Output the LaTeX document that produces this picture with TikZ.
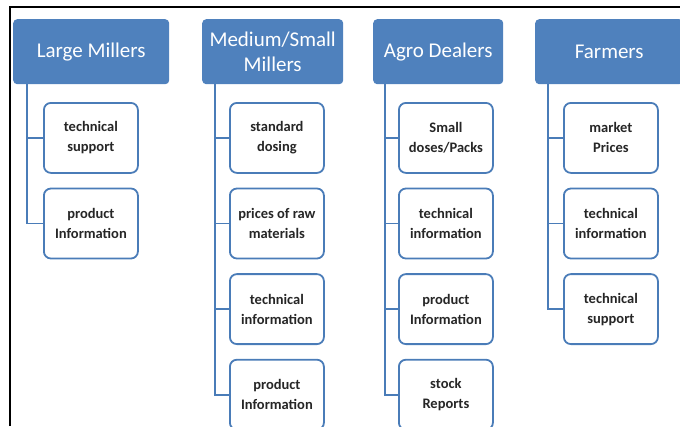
\documentclass[tikz,border=0pt]{standalone}
\usepackage{fontspec}
\setmainfont{Carlito}
\definecolor{hdrblue}{HTML}{4F81BD}
\definecolor{linkblue}{HTML}{4A7CB8}
\definecolor{itemtext}{HTML}{262626}
\def\rowpitch{85.6}

\begin{document}
\begin{tikzpicture}
    [x=1pt,y=-1pt,
      header/.style={anchor=north west,fill=hdrblue,text=white,rounded corners=4pt,minimum height=65pt,inner sep=2pt,align=center,font=\fontsize{21}{25}\selectfont},
      item/.style={anchor=north west,draw=linkblue,line width=1.8pt,fill=white,rounded corners=7pt,minimum width=94pt,minimum height=70pt,inner sep=2pt,align=center,text=itemtext,font=\fontsize{14.5}{20}\selectfont\bfseries},
      link/.style={draw=linkblue,line width=1.8pt}]

    \useasboundingbox (0,0) rectangle (680,426);
    \draw[line width=2.5pt] (10,426) -- (10,7) -- (680,7);

    \node[header,minimum width=156pt] (h1) at (13,19) {Large Millers};
    \node[header,minimum width=141pt] (h2) at (202,19) {Medium/Small\\Millers};
    \node[header,minimum width=130pt] (h3) at (373,19) {Agro Dealers};
    \node[header,minimum width=148pt] (h4) at (535,19) {Farmers};

    \foreach \t [count=\i] in {{technical\\support},{product\\Information}} {
      \node[item] (c1\i) at (43,102+\rowpitch*\i-\rowpitch) {\t};
      \draw[link] ([xshift=14pt]h1.south west) |- (c1\i.west);
    }
    \foreach \t [count=\i] in {{standard\\dosing},{prices of raw\\materials},{technical\\information},{product\\Information}} {
      \node[item] (c2\i) at (229,102+\rowpitch*\i-\rowpitch) {\t};
      \draw[link] ([xshift=13pt]h2.south west) |- (c2\i.west);
    }
    \foreach \t [count=\i] in {{Small\\doses/Packs},{technical\\information},{product\\Information},{stock\\Reports}} {
      \node[item] (c3\i) at (398,102+\rowpitch*\i-\rowpitch) {\t};
      \draw[link] ([xshift=12pt]h3.south west) |- (c3\i.west);
    }
    \foreach \t [count=\i] in {{market\\Prices},{technical\\information},{technical\\support}} {
      \node[item] (c4\i) at (563,102+\rowpitch*\i-\rowpitch) {\t};
      \draw[link] ([xshift=13pt]h4.south west) |- (c4\i.west);
    }

\end{tikzpicture}
\end{document}
